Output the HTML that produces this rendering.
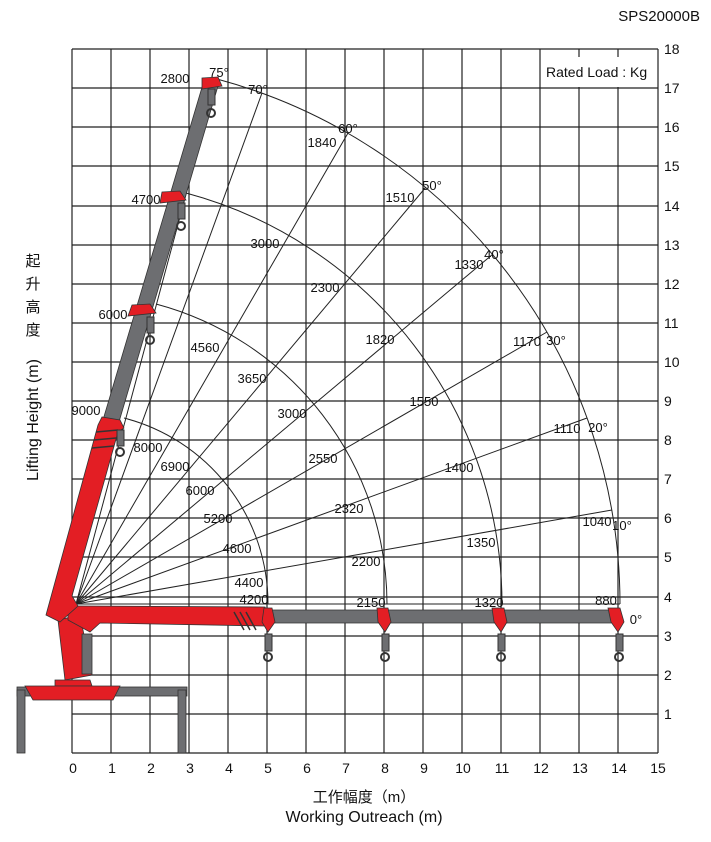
<!DOCTYPE html>
<html><head><meta charset="utf-8"><style>
body{margin:0;background:#fff;}
svg text{font-family:"Liberation Sans","Noto Sans CJK SC",sans-serif;fill:#111;}
</style></head><body>
<svg width="711" height="837" viewBox="0 0 711 837" xmlns="http://www.w3.org/2000/svg">
<rect width="711" height="837" fill="#fff"/>
<g stroke="#222" stroke-width="1.2">
<line x1="72" y1="49" x2="72" y2="753"/><line x1="111" y1="49" x2="111" y2="753"/><line x1="150" y1="49" x2="150" y2="753"/><line x1="189" y1="49" x2="189" y2="753"/><line x1="228" y1="49" x2="228" y2="753"/><line x1="267" y1="49" x2="267" y2="753"/><line x1="306" y1="49" x2="306" y2="753"/><line x1="345" y1="49" x2="345" y2="753"/><line x1="384" y1="49" x2="384" y2="753"/><line x1="423" y1="49" x2="423" y2="753"/><line x1="462" y1="49" x2="462" y2="753"/><line x1="501" y1="49" x2="501" y2="753"/><line x1="540" y1="49" x2="540" y2="753"/><line x1="579" y1="49" x2="579" y2="753"/><line x1="618" y1="49" x2="618" y2="753"/><line x1="658" y1="49" x2="658" y2="753"/>
<line x1="72" y1="49" x2="658" y2="49"/><line x1="72" y1="88" x2="658" y2="88"/><line x1="72" y1="127" x2="658" y2="127"/><line x1="72" y1="166" x2="658" y2="166"/><line x1="72" y1="206" x2="658" y2="206"/><line x1="72" y1="245" x2="658" y2="245"/><line x1="72" y1="284" x2="658" y2="284"/><line x1="72" y1="323" x2="658" y2="323"/><line x1="72" y1="362" x2="658" y2="362"/><line x1="72" y1="401" x2="658" y2="401"/><line x1="72" y1="440" x2="658" y2="440"/><line x1="72" y1="479" x2="658" y2="479"/><line x1="72" y1="518" x2="658" y2="518"/><line x1="72" y1="557" x2="658" y2="557"/><line x1="72" y1="597" x2="658" y2="597"/><line x1="72" y1="636" x2="658" y2="636"/><line x1="72" y1="675" x2="658" y2="675"/><line x1="72" y1="714" x2="658" y2="714"/><line x1="72" y1="753" x2="658" y2="753"/>
</g>
<rect x="541" y="57" width="112" height="30" fill="#fff"/>
<g fill="none" stroke="#222" stroke-width="1">
<path d="M620,604 A544,544 0 0 0 217,79"/>
<path d="M502,604 A426,426 0 0 0 186,193"/>
<path d="M387,604 A311,311 0 0 0 156,304"/>
<path d="M268,604 A192,192 0 0 0 124,418"/>
</g>
<g stroke="#222" stroke-width="1">
<line x1="76" y1="604" x2="620" y2="604"/>
<line x1="76" y1="604" x2="612" y2="510"/>
<line x1="76" y1="604" x2="587" y2="418"/>
<line x1="76" y1="604" x2="547" y2="332"/>
<line x1="76" y1="604" x2="493" y2="254"/>
<line x1="76" y1="604" x2="426" y2="187"/>
<line x1="76" y1="604" x2="348" y2="133"/>
<line x1="76" y1="604" x2="262" y2="93"/>
<line x1="76" y1="604" x2="217" y2="79"/>
</g>
<!-- booms -->
<polygon points="100,430 203,84 218,86 116,432" fill="#6d6e71" stroke="#333" stroke-width="0.8"/>
<polygon points="58,620 80,615 92,675 65,680" fill="#e31e24" stroke="#333" stroke-width="0.8"/>
<rect x="82" y="634" width="10" height="40" fill="#6d6e71" stroke="#333" stroke-width="0.8"/>
<polygon points="55,680 90,680 92,686 55,686" fill="#e31e24" stroke="#333" stroke-width="0.8"/>
<polygon points="258,610 620,610 620,623 258,623" fill="#6d6e71" stroke="#333" stroke-width="0.8"/>
<polygon points="68,606 80,606 265,607 272,622 265,626 100,623 90,632 68,620" fill="#e31e24" stroke="#333" stroke-width="0.8"/>
<polygon points="46,615 98,425 102,417 120,420 124,428 118,432 72,596 78,606 60,622" fill="#e31e24" stroke="#333" stroke-width="0.8"/>
<g stroke="#333" stroke-width="1.5" fill="none"><path d="M96,432 L118,430 M94,440 L116,438 M92,448 L114,446"/><path d="M234,612 L244,630 M240,612 L250,630 M246,612 L256,630"/></g>
<!-- base -->
<rect x="17" y="687" width="170" height="9" fill="#6d6e71" stroke="#333" stroke-width="0.8"/>
<rect x="17" y="690" width="8" height="63" fill="#6d6e71" stroke="#333" stroke-width="0.8"/>
<rect x="178" y="690" width="8" height="63" fill="#6d6e71" stroke="#333" stroke-width="0.8"/>
<polygon points="25,686 120,686 113,700 33,700" fill="#e31e24" stroke="#333" stroke-width="0.8"/>
<g fill="#e31e24" stroke="#333" stroke-width="0.8">
<polygon points="202,78 218,77 222,86 202,89"/>
<polygon points="162,192 180,191 186,200 160,203"/>
<polygon points="132,305 150,304 156,313 128,316"/>
<polygon points="264,608 272,608 275,622 268,632 262,622"/>
<polygon points="377,608 388,608 391,622 385,632 378,622"/>
<polygon points="492,608 504,608 507,622 501,632 494,622"/>
<polygon points="608,608 620,608 624,622 618,632 611,622"/>
</g>
<g fill="#6d6e71" stroke="#333" stroke-width="1">
<rect x="208" y="89" width="7" height="16"/><circle cx="211" cy="113" r="4" fill="none" stroke-width="2"/>
<rect x="178" y="203" width="7" height="16"/><circle cx="181" cy="226" r="4" fill="none" stroke-width="2"/>
<rect x="147" y="317" width="7" height="16"/><circle cx="150" cy="340" r="4" fill="none" stroke-width="2"/>
<rect x="117" y="430" width="7" height="16"/><circle cx="120" cy="452" r="4" fill="none" stroke-width="2"/>
<rect x="265" y="634" width="7" height="17"/><circle cx="268" cy="657" r="4" fill="none" stroke-width="2"/>
<rect x="382" y="634" width="7" height="17"/><circle cx="385" cy="657" r="4" fill="none" stroke-width="2"/>
<rect x="498" y="634" width="7" height="17"/><circle cx="501" cy="657" r="4" fill="none" stroke-width="2"/>
<rect x="616" y="634" width="7" height="17"/><circle cx="619" cy="657" r="4" fill="none" stroke-width="2"/>
</g>
<g font-size="13" text-anchor="middle">
<text x="175" y="83">2800</text><text x="219" y="77">75°</text><text x="258" y="94">70°</text>
<text x="322" y="147">1840</text><text x="348" y="133">60°</text>
<text x="400" y="202">1510</text><text x="432" y="190">50°</text>
<text x="469" y="269">1330</text><text x="494" y="259">40°</text>
<text x="527" y="346">1170</text><text x="556" y="345">30°</text>
<text x="567" y="433">1110</text><text x="598" y="432">20°</text>
<text x="597" y="526">1040</text><text x="622" y="530">10°</text>
<text x="606" y="605">880</text><text x="636" y="624">0°</text>
<text x="146" y="204">4700</text><text x="265" y="248">3000</text><text x="325" y="292">2300</text><text x="380" y="344">1820</text><text x="424" y="406">1550</text><text x="459" y="472">1400</text><text x="481" y="547">1350</text><text x="489" y="607">1320</text>
<text x="113" y="319">6000</text><text x="205" y="352">4560</text><text x="252" y="383">3650</text><text x="292" y="418">3000</text><text x="323" y="463">2550</text><text x="349" y="513">2320</text><text x="366" y="566">2200</text><text x="371" y="607">2150</text>
<text x="86" y="415">9000</text><text x="148" y="452">8000</text><text x="175" y="471">6900</text><text x="200" y="495">6000</text><text x="218" y="523">5200</text><text x="237" y="553">4600</text><text x="249" y="587">4400</text><text x="254" y="604">4200</text>
</g>
<g font-size="14" text-anchor="start">
<text x="664" y="54">18</text><text x="664" y="93">17</text><text x="664" y="132">16</text><text x="664" y="171">15</text><text x="664" y="211">14</text><text x="664" y="250">13</text><text x="664" y="289">12</text><text x="664" y="328">11</text><text x="664" y="367">10</text><text x="664" y="406">9</text><text x="664" y="445">8</text><text x="664" y="484">7</text><text x="664" y="523">6</text><text x="664" y="562">5</text><text x="664" y="602">4</text><text x="664" y="641">3</text><text x="664" y="680">2</text><text x="664" y="719">1</text>
</g>
<g font-size="14" text-anchor="middle">
<text x="73" y="773">0</text><text x="112" y="773">1</text><text x="151" y="773">2</text><text x="190" y="773">3</text><text x="229" y="773">4</text><text x="268" y="773">5</text><text x="307" y="773">6</text><text x="346" y="773">7</text><text x="385" y="773">8</text><text x="424" y="773">9</text><text x="463" y="773">10</text><text x="502" y="773">11</text><text x="541" y="773">12</text><text x="580" y="773">13</text><text x="619" y="773">14</text><text x="658" y="773">15</text>
<text x="364" y="802" font-size="15">工作幅度（m）</text>
<text x="364" y="822" font-size="16">Working Outreach (m)</text>
</g>
<text x="700" y="21" font-size="15" text-anchor="end">SPS20000B</text>
<text x="546" y="77" font-size="14">Rated Load : Kg</text>
<g font-size="15" text-anchor="middle">
<text x="33" y="266">起</text><text x="33" y="289">升</text><text x="33" y="312">高</text><text x="33" y="335">度</text>
</g>
<text transform="translate(38,420) rotate(-90)" font-size="16" text-anchor="middle">Lifting Height (m)</text>
</svg>
</body></html>
